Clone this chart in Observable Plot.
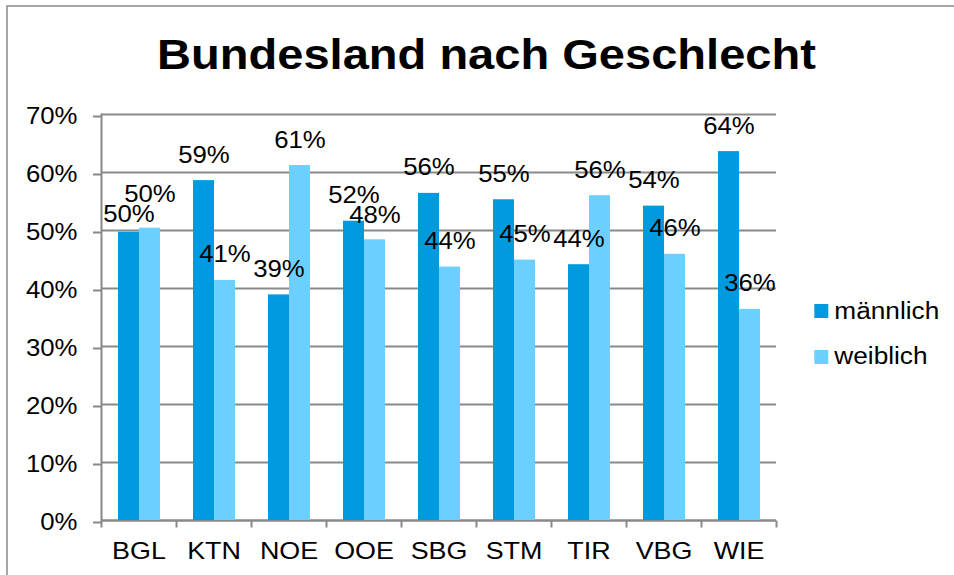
<!DOCTYPE html>
<html><head><meta charset="utf-8">
<script src="https://cdn.jsdelivr.net/npm/d3@7"></script>
<script src="https://cdn.jsdelivr.net/npm/@observablehq/plot@0.6"></script>
<style>
html,body{margin:0;padding:0;background:#fff;}
#chart{position:relative;width:954px;height:575px;overflow:hidden;}
#chart svg{display:block}
</style></head><body><div id="chart"></div>
<script>
const title = "Bundesland nach Geschlecht";
const states = ["BGL", "KTN", "NOE", "OOE", "SBG", "STM", "TIR", "VBG", "WIE"];
const series = ["männlich", "weiblich"];
const maennlich = [0.497, 0.586, 0.389, 0.516, 0.564, 0.553, 0.441, 0.542, 0.636];
const weiblich  = [0.504, 0.414, 0.612, 0.484, 0.437, 0.449, 0.560, 0.459, 0.364];
const colors = ["#009ADE", "#6DCFFF"];
const yTicks = [0, 0.1, 0.2, 0.3, 0.4, 0.5, 0.6, 0.7];

const table = states.flatMap((s, i) => [
  {state: s, gender: series[0], value: maennlich[i]},
  {state: s, gender: series[1], value: weiblich[i]}
]);
const pct = d3.format(".0%");
const grey = "#898989";
const font = "'Liberation Sans', Arial, sans-serif";
const tickMark = {draw(ctx) { ctx.moveTo(0, 0); ctx.lineTo(0, 7); }};

const svg = Plot.plot({
  width: 954, height: 575,
  marginLeft: 101, marginRight: 178, marginTop: 114, marginBottom: 55,
  style: {fontFamily: font, fontSize: "23px", color: "#000", background: "transparent"},
  fx: {domain: states, paddingInner: 0, paddingOuter: 0, label: null},
  x: {domain: series, paddingInner: 0, paddingOuter: 0.7857, axis: null},
  y: {domain: [0, 0.7]},
  color: {domain: series, range: colors},
  marks: [
    Plot.gridY(yTicks, {stroke: grey, strokeOpacity: 1, strokeWidth: 2}),
    Plot.ruleY([0], {stroke: grey, strokeWidth: 2}),
    Plot.frame({anchor: "left", stroke: grey, strokeWidth: 2, facetAnchor: "left"}),
    Plot.dot([0], {frameAnchor: "bottom-left", symbol: tickMark, stroke: grey, strokeWidth: 2, fill: "none"}),
    Plot.dot([states[states.length - 1]], {fx: d => d, frameAnchor: "bottom-right", symbol: tickMark, stroke: grey, strokeWidth: 2, fill: "none"}),
    Plot.barY(table, {fx: "state", x: "gender", y: "value", fill: "gender"}),
    Plot.text(table, {fx: "state", x: "gender", y: "value", text: d => pct(d.value), lineAnchor: "bottom", dy: -18, fill: "#000", fontSize: 23}),
    Plot.axisY(yTicks, {tickSize: 8, tickPadding: 16, stroke: grey, strokeWidth: 2, fill: "#000", tickFormat: pct, label: null, fontSize: 23, dy: 2}),
    Plot.axisFx({anchor: "bottom", tickSize: 0, tickPadding: 21, label: null, fontSize: 24, fill: "#000"})
  ]
});

document.getElementById("chart").append(svg);
const root = d3.select(svg);

function stretch(sel, f) {
  sel.each(function() {
    const len = this.getComputedTextLength();
    if (len > 0) {
      this.setAttribute("textLength", len * f);
      this.setAttribute("lengthAdjust", "spacingAndGlyphs");
    }
  });
}
stretch(root.selectAll("text"), 1.12);

// push apart value labels that collide (as the spreadsheet did)
const labels = root.selectAll('g[aria-label="text"] text').nodes();
const minSep = 20;
const rects = labels.map(n => n.getBoundingClientRect());
const shift = labels.map(() => 0);
for (let i = 0; i < labels.length; i++) {
  for (let j = i + 1; j < labels.length; j++) {
    const a = rects[i], b = rects[j];
    const xo = Math.min(a.right, b.right) - Math.max(a.left, b.left);
    const dy = (b.top + shift[j]) - (a.top + shift[i]);
    if (xo > 0 && Math.abs(dy) < minSep) {
      const need = (minSep - Math.abs(dy)) / 2;
      if (dy >= 0) { shift[i] -= need; shift[j] += need; }
      else { shift[i] += need; shift[j] -= need; }
    }
  }
}
labels.forEach((n, i) => {
  if (shift[i]) n.setAttribute("transform", (n.getAttribute("transform") || "") + ` translate(0,${shift[i]})`);
});

// outer border of the chart object
root.append("path")
  .attr("d", "M7,575V6H954")
  .attr("fill", "none").attr("stroke", grey).attr("stroke-width", 1.5);

// title
const t = root.append("text")
  .attr("x", 486.5).attr("y", 69.3)
  .attr("text-anchor", "middle")
  .attr("font-family", font).attr("font-weight", "bold").attr("font-size", 43)
  .attr("fill", "#000").text(title);
stretch(t, 1.094);

// legend
const lg = root.append("g").attr("font-family", font).attr("font-size", 23).attr("text-anchor", "start");
series.forEach((name, i) => {
  lg.append("rect").attr("x", 814.3).attr("y", 304 + i * 46).attr("width", 14).attr("height", 14).attr("fill", colors[i]);
  const tx = lg.append("text").attr("x", 834.3).attr("y", 319.3 + i * 45).attr("fill", "#000").text(name);
  stretch(tx, 1.14);
});
</script></body></html>
